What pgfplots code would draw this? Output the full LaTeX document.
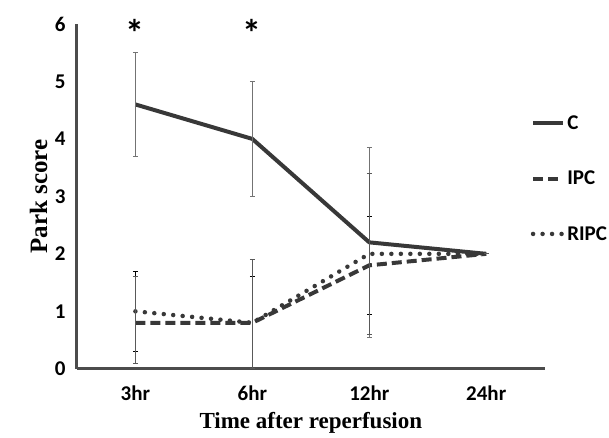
\documentclass[border=0pt]{standalone}
\usepackage{pgfplots}
\pgfplotsset{compat=1.18}
\usepackage{fontspec}
\setmainfont{Liberation Serif}
\newfontfamily\carl{Carlito}
\definecolor{ln}{HTML}{383838}
\begin{document}
\begin{tikzpicture}
\begin{axis}[
 scale only axis, width=468pt, height=345pt,
 xmin=-0.5, xmax=3.5, ymin=0, ymax=6,
 axis lines=left,
 axis line style={line width=3pt, color=black!70, -},
 xtick={0,1,2,3}, xticklabels={3hr,6hr,12hr,24hr},
 ytick={0,1,2,3,4,5,6},
 major tick length=0pt,
 /pgf/number format/assume math mode=true,
 tick label style={font=\carl\bfseries\fontsize{21}{21}\selectfont},
 yticklabel style={xshift=-8pt},
 xticklabel style={yshift=-13pt},
 xlabel={Time after reperfusion},
 ylabel={Park score},
 xlabel style={font=\bfseries\fontsize{23}{23}\selectfont, at={(axis description cs:0.5,-0.158)}, anchor=center},
 ylabel style={font=\bfseries\fontsize{25}{25}\selectfont, at={(axis description cs:-0.082,0.5)}, anchor=center},
 clip=false,
 legend style={draw=none, fill=none, at={(axis description cs:0.97,0.74)}, anchor=north west,
   font=\carl\bfseries\fontsize{21}{21}\selectfont, row sep=36pt, inner sep=0pt},
 legend cell align=left,
 legend image code/.code={\draw[#1] (0pt,0pt) -- (30pt,0pt);},
 /tikz/every even column/.append style={column sep=1pt},
]
\addplot[ln, line width=4pt, line join=round,
  error bars/.cd, y dir=both, y explicit,
  error bar style={line width=0.7pt, color=black!55},
  error mark options={rotate=90, mark size=2.5pt, line width=0.7pt, color=black!55}]
 table[x=x, y=y, y error plus=ep, y error minus=em] {
 x y ep em
 0 4.6 0.9 0.9
 1 4.0 1.0 1.0
 2 2.2 1.65 1.65
 3 2.0 0 0
 };
\addlegendentry{C}
\addplot[ln, line width=4pt, dash pattern=on 10pt off 5pt,
  error bars/.cd, y dir=both, y explicit,
  error bar style={line width=1pt, color=black, solid},
  error mark options={rotate=90, mark size=2.5pt, line width=1pt, color=black, solid}]
 table[x=x, y=y, y error plus=ep, y error minus=em] {
 x y ep em
 0 0.8 0.9 0.5
 1 0.8 0.8 0.8
 2 1.8 0.85 0.85
 3 2.0 0 0
 };
\addlegendentry{IPC}
\addplot[ln, line width=4.5pt, dash pattern=on 0pt off 9.5pt, line cap=round,
  error bars/.cd, y dir=both, y explicit,
  error bar style={line width=0.7pt, color=black!65, solid, line cap=butt},
  error mark options={rotate=90, mark size=2.5pt, line width=0.7pt, color=black!65, solid}]
 table[x=x, y=y, y error plus=ep, y error minus=em] {
 x y ep em
 0 1.0 0.6 0.9
 1 0.8 1.1 0.8
 2 2.0 1.4 1.4
 3 2.0 0 0
 };
\addlegendentry{RIPC}
\node[font=\carl\bfseries\fontsize{38}{38}\selectfont] at (axis cs:0,5.85) {*};
\node[font=\carl\bfseries\fontsize{38}{38}\selectfont] at (axis cs:1,5.85) {*};
\end{axis}
\path ([xshift=-77pt,yshift=-64pt]current axis.south west) rectangle ++(609pt,433pt);
\end{tikzpicture}
\end{document}
